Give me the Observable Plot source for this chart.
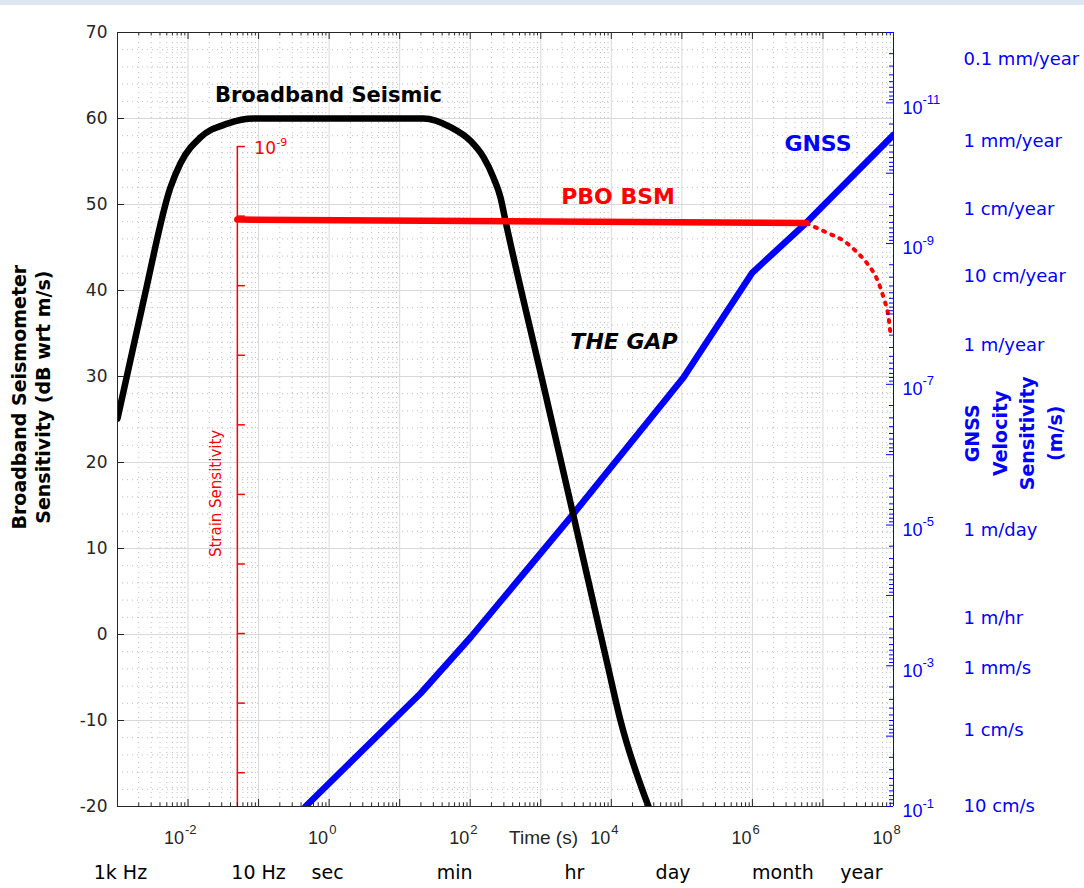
<!DOCTYPE html>
<html>
<head>
<meta charset="utf-8">
<script src="https://cdn.jsdelivr.net/npm/d3@7"></script>
<script src="https://cdn.jsdelivr.net/npm/@observablehq/plot@0.6"></script>
<style>
html, body { margin: 0; padding: 0; background: #fff; }
#chart { position: absolute; left: 0; top: 0; }
#band { position: absolute; left: 0; top: 0; width: 1084px; height: 5px; background: #dde7f3; }
</style>
</head>
<body>
<div id="chart"></div>
<div id="band"></div>
<script>
// ---------------- data ----------------
// Broadband seismometer sensitivity: period (s) vs dB wrt m/s
const seismicTime = [0.001, 0.00234, 0.00564, 0.00782, 0.015, 0.0362, 0.0847, 21.7, 52.5, 100.7, 154, 214, 269, 316, 1094, 2818, 8830, 13490, 33650];
const seismicDb   = [25.1, 38.8, 52.0, 54.8, 57.8, 59.4, 60.0, 60.0, 59.0, 57.4, 55.5, 53.1, 50.8, 48.1, 28.95, 14.3, -3.5, -10.0, -20.0];

// GNSS velocity sensitivity: period (s) vs m/s (right axis)
const gnssTime     = [0.462, 19.7, 100.7, 2636, 105400, 1000000, 5650000, 100000000];
const gnssVelocity = [1e-1, 2.48e-3, 3.96e-4, 7.8e-6, 8.0e-8, 2.58e-9, 5.19e-10, 2.85e-11];

// PBO borehole strainmeter (solid) and its long-period roll-off (dotted)
const bsmTime = [0.05, 5800000];
const bsmDb   = [48.25, 47.85];
const bsmRollTime = [5900000, 11600000, 19500000, 30800000, 42800000, 59300000, 72100000, 84900000, 90600000];
const bsmRollDb   = [47.8, 46.7, 45.8, 44.4, 43.1, 41.2, 39.2, 36.9, 35.0];

// Strain sensitivity axis (exponents of strain ticks)
const strainAxisTime = 0.05;
const strainTickExp = [-9, -10, -11, -12, -13, -14, -15, -16, -17, -18];

// Axis tick labels
const yTicks = [-20, -10, 0, 10, 20, 30, 40, 50, 60, 70];
const xTickExp = [-2, 0, 2, 4, 6, 8];
const velTickExp = [-1, -3, -5, -7, -9, -11];

// Velocity unit annotations (right side)
const velUnitLabels = ["0.1 mm/year", "1 mm/year", "1 cm/year", "10 cm/year", "1 m/year", "1 m/day", "1 m/hr", "1 mm/s", "1 cm/s", "10 cm/s"];
const velUnitValues = [2.4e-12, 3.5e-11, 3.3e-10, 2.95e-9, 2.8e-8, 1.17e-5, 2.1e-4, 1.1e-3, 8.3e-3, 1e-1];

// Period annotations (bottom)
const timeLabels = ["1k Hz", "10 Hz", "sec", "min", "hr", "day", "month", "year"];
const timeLabelValues = [0.0011, 0.1, 0.95, 60, 3000, 75000, 2700000, 35000000];

// ---------------- helpers ----------------
const ML = 117, MR = 191, MT = 32, MB = 82, W = 1084, H = 888;
const PX_PER_DECADE = (W - ML - MR) / 11;
const PX_PER_DB = (H - MT - MB) / 90;
const xShift = (t, px) => t * Math.pow(10, px / PX_PER_DECADE);
const dbLen = px => px / PX_PER_DB;
// right axis: 1e-1 m/s at bottom (-20 dB) .. 1e-12 m/s at top (70 dB)
const velToDb = v => -20 - (Math.log10(v) + 1) * 90 / 11;
// strain axis: 10^-9 at top tick, decades evenly spaced
const strainToDb = e => 56.74 + (e + 9) * 8.09;

const seismic = seismicTime.map((t, i) => ({t, db: seismicDb[i]}));
const gnss = gnssTime.map((t, i) => ({t, v: gnssVelocity[i]}));
const bsm = bsmTime.map((t, i) => ({t, db: bsmDb[i]}));
const bsmRoll = bsmRollTime.map((t, i) => ({t, db: bsmRollDb[i]}));
const velUnits = velUnitLabels.map((label, i) => ({label, v: velUnitValues[i]}));
const timeMarks = timeLabels.map((label, i) => ({label, t: timeLabelValues[i]}));

const majorX = d3.range(-3, 9).map(e => Math.pow(10, e));
const minorX = d3.range(-3, 8).flatMap(e => d3.range(2, 10).map(k => k * Math.pow(10, e)));
const gridMajorX = d3.range(-2, 8).map(e => Math.pow(10, e));
const gridMajorY = d3.range(-10, 70, 10);
const gridMinorY = d3.range(-18, 70, 2).filter(v => v % 10 !== 0);
const velMajor = d3.range(-12, 0).map(e => Math.pow(10, e));
const velMinor = d3.range(-12, -1).flatMap(e => d3.range(2, 10).map(k => k * Math.pow(10, e)));

const SANS = "'DejaVu Sans', sans-serif";
const TICKF = "'Liberation Sans', Arial, sans-serif";
const AX = "#262626";
const BLUE = "#0000ff";
const RED = "#ff0000";

const chart = Plot.plot({
  width: W, height: H,
  marginLeft: ML, marginRight: MR, marginTop: MT, marginBottom: MB,
  x: {type: "log", domain: [1e-3, 1e8], axis: null},
  y: {domain: [-20, 70], axis: null},
  style: {background: "white", fontFamily: SANS, overflow: "visible"},
  marks: [
    // grid
    Plot.ruleX(minorX, {stroke: "#bdbdbd", strokeDasharray: "1,4"}),
    Plot.ruleY(gridMinorY, {stroke: "#bdbdbd", strokeDasharray: "1,4"}),
    Plot.ruleX(gridMajorX, {stroke: "#d9d9d9"}),
    Plot.ruleY(gridMajorY, {stroke: "#d9d9d9"}),

    // strain sensitivity axis
    Plot.ruleX([strainAxisTime], {y1: -20, y2: strainToDb(-9), stroke: RED, strokeWidth: 1.5}),
    Plot.ruleY(strainTickExp, {y: strainToDb, x1: strainAxisTime, x2: xShift(strainAxisTime, 8), stroke: RED, strokeWidth: 1.5}),
    Plot.text(["10"], {x: strainAxisTime, y: strainToDb(-9), text: d => d, dx: 17, dy: 2, textAnchor: "start", fill: RED, fontSize: 17, fontFamily: SANS}),
    Plot.text(["-9"], {x: strainAxisTime, y: strainToDb(-9), text: d => d, dx: 39, dy: -4, textAnchor: "start", fill: RED, fontSize: 11, fontFamily: SANS}),
    Plot.text(["Strain Sensitivity"], {x: strainAxisTime, y: 16.4, text: d => d, dx: -21, rotate: -90, fill: RED, fontSize: 15, fontFamily: SANS}),

    // series
    Plot.line(gnss, {x: "t", y: d => velToDb(d.v), stroke: BLUE, strokeWidth: 6.5, clip: true}),
    Plot.line(seismic, {x: "t", y: "db", stroke: "#000", strokeWidth: 6.5, curve: "monotone-x", clip: true}),
    Plot.line(bsm, {x: "t", y: "db", stroke: RED, strokeWidth: 6.5, clip: true}),
    Plot.line(bsmRoll, {x: "t", y: "db", stroke: RED, strokeWidth: 4, strokeDasharray: "2,7", curve: "monotone-x", clip: true}),

    // frame
    Plot.ruleY([-20, 70], {stroke: AX}),
    Plot.ruleX([1e-3], {stroke: AX}),
    Plot.ruleX([1e8], {stroke: BLUE}),

    // x ticks (inward), bottom and top
    Plot.ruleX(majorX, {y1: -20, y2: -20 + dbLen(7), stroke: AX}),
    Plot.ruleX(minorX, {y1: -20, y2: -20 + dbLen(3.5), stroke: AX}),
    Plot.ruleX(majorX, {y1: 70, y2: 70 - dbLen(7), stroke: AX}),
    Plot.ruleX(minorX, {y1: 70, y2: 70 - dbLen(3.5), stroke: AX}),
    // left y ticks
    Plot.ruleY(yTicks, {x1: 1e-3, x2: xShift(1e-3, 7), stroke: AX}),
    // right (velocity) ticks
    Plot.ruleY(velMajor, {y: velToDb, x1: xShift(1e8, -7), x2: 1e8, stroke: BLUE}),
    Plot.ruleY(velMinor, {y: velToDb, x1: xShift(1e8, -4), x2: 1e8, stroke: BLUE}),

    // left y tick labels
    Plot.text(yTicks, {x: 1e-3, y: d => d, text: d => String(d), textAnchor: "end", dx: -10, fill: AX, fontSize: 17, fontFamily: SANS}),

    // x tick labels 10^n
    Plot.text(xTickExp.filter(e => e < 0), {x: e => Math.pow(10, e), y: -20, text: () => "10", textAnchor: "end", dx: -4, dy: 32, fill: AX, fontSize: 18, fontFamily: TICKF}),
    Plot.text(xTickExp.filter(e => e < 0), {x: e => Math.pow(10, e), y: -20, text: e => String(e), textAnchor: "start", dx: -3, dy: 23, fill: AX, fontSize: 13, fontFamily: TICKF}),
    Plot.text(xTickExp.filter(e => e >= 0), {x: e => Math.pow(10, e), y: -20, text: () => "10", textAnchor: "end", dx: -1, dy: 32, fill: AX, fontSize: 18, fontFamily: TICKF}),
    Plot.text(xTickExp.filter(e => e >= 0), {x: e => Math.pow(10, e), y: -20, text: e => String(e), textAnchor: "start", dx: 0, dy: 23, fill: AX, fontSize: 13, fontFamily: TICKF}),
    Plot.text(["Time (s)"], {x: 1094, y: -20, text: d => d, dy: 31, fill: AX, fontSize: 19, fontFamily: TICKF}),

    // period annotations
    Plot.text(timeMarks, {x: "t", y: -20, text: "label", dy: 66, fill: "#000", fontSize: 19, fontFamily: SANS}),

    // right axis exponent labels
    Plot.text(velTickExp, {x: 1e8, y: e => velToDb(Math.pow(10, e)), text: () => "10", textAnchor: "start", dx: 9, dy: 5, fill: BLUE, fontSize: 18, fontFamily: TICKF}),
    Plot.text(velTickExp, {x: 1e8, y: e => velToDb(Math.pow(10, e)), text: e => String(e), textAnchor: "start", dx: 29, dy: -3, fill: BLUE, fontSize: 13, fontFamily: TICKF}),

    // velocity unit labels
    Plot.text(velUnits, {x: 1e8, y: d => velToDb(d.v), text: "label", textAnchor: "start", dx: 70, fill: BLUE, fontSize: 18, fontFamily: SANS}),

    // axis titles
    Plot.text(["Broadband Seismometer\nSensitivity (dB wrt m/s)"], {x: 1e-3, y: 27.6, text: d => d, dx: -87, rotate: -90, lineHeight: 1.26, fill: "#000", fontSize: 19, fontWeight: "bold", fontFamily: SANS}),
    Plot.text(["GNSS\nVelocity\nSensitivity\n(m/s)"], {x: 1e8, y: 23.4, text: d => d, dx: 118, rotate: -90, lineHeight: 1.45, fill: BLUE, fontSize: 19, fontWeight: "bold", fontFamily: SANS}),

    // series annotations
    Plot.text(["Broadband Seismic"], {x: 0.98, y: 62.67, text: d => d, fill: "#000", fontSize: 21, fontWeight: "bold", fontFamily: SANS}),
    Plot.text(["PBO BSM"], {x: 12450, y: 50.93, text: d => d, fill: RED, fontSize: 22, fontWeight: "bold", fontFamily: SANS}),
    Plot.text(["THE GAP"], {x: 15140, y: 34.07, text: d => d, fill: "#000", fontSize: 22, fontWeight: "bold", fontStyle: "italic", fontFamily: SANS}),
    Plot.text(["GNSS"], {x: 8500000, y: 57.09, text: d => d, fill: BLUE, fontSize: 22, fontWeight: "bold", fontFamily: SANS})
  ]
});
document.getElementById("chart").appendChild(chart);
</script>
</body>
</html>
